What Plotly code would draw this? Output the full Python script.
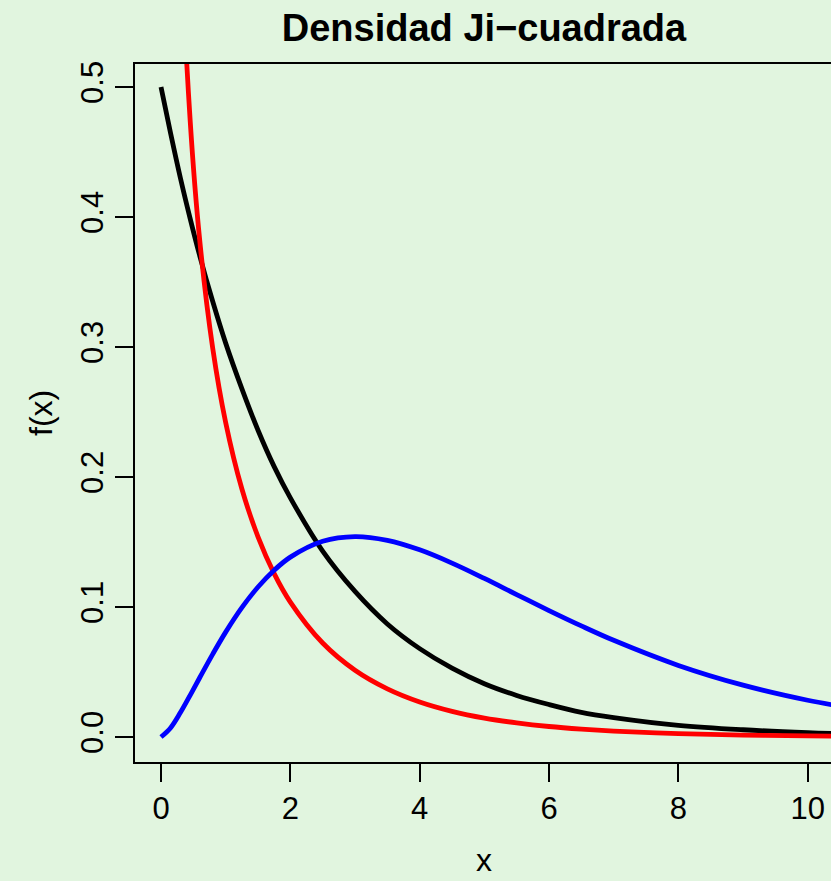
import plotly.graph_objects as go

# Evaluation points along the x axis
x_vals = [0, 0.15, 0.3, 0.45, 0.6, 0.8, 1.0, 1.25, 1.5, 1.75, 2.0, 2.5, 3.0,
          3.5, 4.0, 4.5, 5.0, 5.5, 6.0, 6.5, 7.0, 8.0, 9.0, 10.0, 10.5]

# Chi-square density, 2 degrees of freedom (black)
dens_gl2 = [0.500, 0.464, 0.430, 0.399, 0.370, 0.335, 0.303, 0.268, 0.236,
            0.208, 0.184, 0.143, 0.112, 0.087, 0.068, 0.053, 0.041, 0.032,
            0.025, 0.019, 0.015, 0.009, 0.0056, 0.0034, 0.0026]

# Chi-square density, 1 degree of freedom (red); undefined at x = 0
x_gl1 = x_vals[1:]
dens_gl1 = [0.956, 0.627, 0.475, 0.3815, 0.299, 0.242, 0.191, 0.154, 0.1257,
            0.1038, 0.0723, 0.0514, 0.0371, 0.0270, 0.0198, 0.0146, 0.0109,
            0.0081, 0.0061, 0.0046, 0.0026, 0.0015, 0.00085, 0.00065]

# Chi-square density, 5 degrees of freedom (blue)
dens_gl5 = [0.0, 0.0072, 0.0188, 0.0321, 0.0458, 0.0638, 0.0807, 0.0995,
            0.1154, 0.1283, 0.1384, 0.1506, 0.1542, 0.1513, 0.1440, 0.1338,
            0.1220, 0.1096, 0.0973, 0.0855, 0.0744, 0.0551, 0.0399, 0.0283,
            0.0238]

x_ticks = [0, 2, 4, 6, 8, 10]
y_ticks = [0.0, 0.1, 0.2, 0.3, 0.4, 0.5]
y_tick_text = ["0.0", "0.1", "0.2", "0.3", "0.4", "0.5"]

BG = "#E1F5DF"
FONT = "Liberation Sans, Arial, Helvetica, sans-serif"
W, H = 831, 881
PLOT_L, PLOT_T, PLOT_B = 135, 64, 762

fig = go.Figure()
for xs, ys, col in [(x_vals, dens_gl2, "black"),
                    (x_gl1, dens_gl1, "red"),
                    (x_vals, dens_gl5, "blue")]:
    fig.add_trace(go.Scatter(
        x=xs, y=ys, mode="lines",
        line=dict(color=col, width=4.8, shape="spline", smoothing=1.0),
        showlegend=False, hoverinfo="skip"))

# Axis titles placed as free text in page pixels
fig.add_annotation(text="x", xref="paper", yref="paper",
                   x=(484 - PLOT_L) / (W - PLOT_L),
                   y=-(H - 1 - PLOT_B) / (PLOT_B - PLOT_T),
                   xanchor="center", yanchor="bottom", showarrow=False,
                   font=dict(size=32, family=FONT, color="black"))
fig.add_annotation(text="f(x)", xref="paper", yref="paper", textangle=-90,
                   x=-(PLOT_L - 41) / (W - PLOT_L), y=0.5,
                   xanchor="center", yanchor="middle", showarrow=False,
                   font=dict(size=32, family=FONT, color="black"))

fig.update_layout(
    width=W, height=H,
    paper_bgcolor=BG, plot_bgcolor=BG,
    margin=dict(l=PLOT_L, r=0, t=PLOT_T, b=H - PLOT_B, autoexpand=False),
    font=dict(family=FONT, color="black", size=31),
    title=dict(text="<b>Densidad Ji\u2212cuadrada</b>",
               x=484 / W, xanchor="center", xref="container",
               y=1 - 28 / H, yanchor="middle", yref="container",
               font=dict(size=38, family=FONT)),
    xaxis=dict(
        range=[-0.402, 10.36], tickvals=x_ticks,
        ticks="outside", ticklen=18, tickwidth=1.5, tickcolor="black",
        showline=True, linecolor="black", linewidth=1.5, mirror=True,
        showgrid=False, zeroline=False, automargin=False,
        tickfont=dict(size=31),
    ),
    yaxis=dict(
        range=[-0.0192, 0.5177], tickvals=y_ticks, ticktext=y_tick_text,
        tickangle=-90,
        ticks="outside", ticklen=18, tickwidth=1.5, tickcolor="black",
        showline=True, linecolor="black", linewidth=1.5, mirror=False,
        showgrid=False, zeroline=False, automargin=False,
        tickfont=dict(size=31),
    ),
)

fig.write_html("out.html")
